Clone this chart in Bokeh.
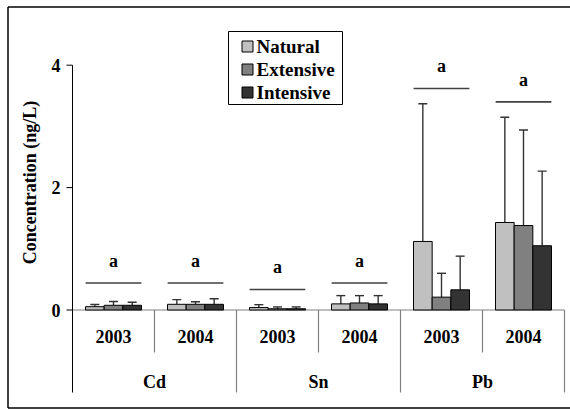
import numpy as np
from bokeh.plotting import figure
from bokeh.models import Range1d, ColumnDataSource
from bokeh.embed import file_html
from bokeh.resources import INLINE
from bokeh.core.properties import value

# ---- data -------------------------------------------------------------
elements = ["Cd", "Sn", "Pb"]
years = ["2003", "2004"]
treatments = ["Natural", "Extensive", "Intensive"]
colors = ["#c0c0c0", "#808080", "#333333"]

# mean concentration (ng/L), ordered Cd-2003, Cd-2004, Sn-2003, Sn-2004, Pb-2003, Pb-2004
natural = [0.054, 0.093, 0.04, 0.10, 1.12, 1.43]
extensive = [0.077, 0.093, 0.02, 0.115, 0.21, 1.38]
intensive = [0.077, 0.093, 0.02, 0.10, 0.33, 1.05]
# standard deviations (upper error bars)
natural_sd = [0.036, 0.077, 0.047, 0.135, 2.25, 1.72]
extensive_sd = [0.063, 0.043, 0.03, 0.12, 0.39, 1.56]
intensive_sd = [0.05, 0.092, 0.03, 0.135, 0.55, 1.22]

# significance letters and the height of their bracket lines
letters = ["a", "a", "a", "a", "a", "a"]
letter_line = [0.44, 0.44, 0.335, 0.44, 3.62, 3.40]

y_ticks = [0, 2, 4]

# ---- geometry helpers (pixel -> data) -----------------------------------
W, H = 570, 410
X0, XS = 72.0, 82.0      # pixel of x = 0, pixels per year group
Y0, YS = 309.5, 61.2     # pixel of y = 0, pixels per ng/L


def sx(px):
    return (px - X0) / XS


def sy(py):
    return (Y0 - py) / YS


FONT = "Liberation Serif"
AXIS_GREY = "#808080"
ERR_COLOR = "#333333"

p = figure(width=W, height=H, output_backend="svg", toolbar_location=None,
           x_range=Range1d(sx(0), sx(W)), y_range=Range1d(sy(H), sy(0)),
           x_axis_location=None, y_axis_location=None, min_border=0,
           tools="")
p.grid.visible = False
p.outline_line_color = None
p.background_fill_color = "white"
p.border_fill_color = "white"


def label(x, y, text, size="18px", align="center", angle=0.0):
    p.text(x=x, y=y, text=text, angle=angle, text_font=value(FONT),
           text_font_style="bold", text_font_size=size, text_align=align,
           text_baseline="middle", text_color="black")


n_groups = len(elements) * len(years)
centers = np.arange(n_groups) + 0.5
bw = 0.2276

# category axis: baseline and separators
p.segment(x0=[0], y0=[0], x1=[n_groups], y1=[0], line_color=AXIS_GREY, line_width=1.2)
yr_sep = np.arange(1, n_groups, 2)
p.segment(x0=yr_sep, y0=0, x1=yr_sep, y1=sy(352), line_color=AXIS_GREY, line_width=1.2)
el_sep = np.arange(2, n_groups + 1, 2)
p.segment(x0=el_sep, y0=0, x1=el_sep, y1=sy(392), line_color=AXIS_GREY, line_width=1.2)

year_labels = [y for e in elements for y in years]
label(centers, [sy(336)] * n_groups, year_labels)
label(np.arange(len(elements)) * 2 + 1.0, [sy(381)] * len(elements), elements)

# bars with upper error bars
series = [natural, extensive, intensive]
sds = [natural_sd, extensive_sd, intensive_sd]
for j, (vals, sd, col) in enumerate(zip(series, sds, colors)):
    xs = centers + (j - 1) * bw
    vals = np.array(vals)
    tops = vals + np.array(sd)
    src = ColumnDataSource(dict(x=xs, top=vals, up=tops))
    p.segment(x0="x", y0="top", x1="x", y1="up", source=src,
              line_color=ERR_COLOR, line_width=1.4)
    p.scatter(x="x", y="up", source=src, marker="dash", size=9,
              line_color=ERR_COLOR, line_width=1.4)
    p.vbar(x="x", top="top", bottom=0, width=bw, source=src,
           fill_color=col, line_color="black", line_width=1)

# significance brackets and letters
line_y = np.array(letter_line)
p.segment(x0=centers - 0.34, y0=line_y, x1=centers + 0.34, y1=line_y,
          line_color="#404040", line_width=1.6)
label(centers, line_y + 0.36, letters)

# value axis
p.segment(x0=[0], y0=[sy(392)], x1=[0], y1=[max(y_ticks)], line_color="black", line_width=1)
p.segment(x0=sx(66), y0=y_ticks, x1=0, y1=y_ticks, line_color="black", line_width=1)
label([sx(60)] * len(y_ticks), y_ticks, [str(t) for t in y_ticks], align="right")
label([sx(29)], [sy(182)], ["Concentration (ng/L)"], angle=np.pi / 2)

# legend
p.quad(left=[sx(228)], right=[sx(342)], top=[sy(31)], bottom=[sy(104)],
       fill_color="white", line_color="black", line_width=1)
rows = [sy(46), sy(69), sy(92)]
p.scatter(x=sx(247), y=rows, marker="square", size=11, fill_color=colors,
          line_color="black", line_width=1)
label([sx(256)] * 3, rows, treatments, size="19px", align="left")

# chart border (left, top, bottom)
p.segment(x0=[sx(7.5), sx(7.5), sx(7.5)], y0=[sy(6.5), sy(6.5), sy(407.5)],
          x1=[sx(7.5), sx(W), sx(W)], y1=[sy(407.5), sy(6.5), sy(407.5)],
          line_color="black", line_width=1.5)

open("out.html", "w").write(file_html(p, INLINE))
